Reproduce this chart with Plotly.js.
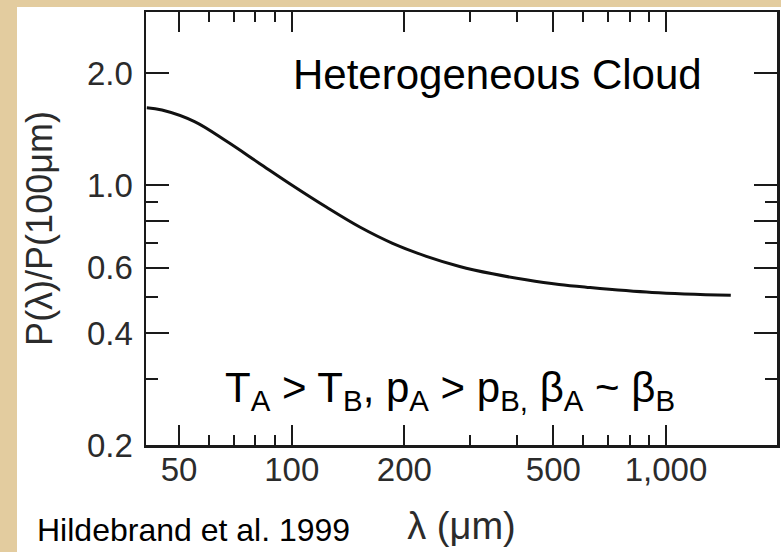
<!DOCTYPE html>
<html>
<head>
<meta charset="utf-8">
<script src="https://cdn.plot.ly/plotly-3.0.1.min.js"></script>
<style>
  html, body { margin: 0; padding: 0; background: #e3cc9f; }
  #chart { width: 781px; height: 552px; }
</style>
</head>
<body>
<div id="chart"></div>
<script>
// Polarization spectrum, normalised at 100 μm
const wavelength = [41, 45, 55, 67, 82, 100, 124, 152, 186, 229, 281, 344, 423, 518, 612, 918, 1490];
const ratio      = [1.612, 1.59, 1.48, 1.31, 1.143, 1.00, 0.871, 0.771, 0.697, 0.643, 0.604, 0.577, 0.556, 0.540, 0.531, 0.514, 0.505];

// Axis ticks
const xMajorVals = [50, 100, 200, 500, 1000];
const xMajorText = ['50', '100', '200', '500', '1,000'];
const xMinorVals = [60, 70, 80, 90, 300, 400, 600, 700, 800, 900];
const yMajorVals = [0.2, 0.4, 0.6, 0.8, 1.0, 2.0];
const yMajorText = ['0.2', '0.4', '0.6', '', '1.0', '2.0'];
const yMinorVals = [0.3, 0.5, 0.7, 0.9];

// Text
const cloudLabel = 'Heterogeneous Cloud';
const conditionLabel = 'T<sub>A</sub> > T<sub>B</sub>, p<sub>A</sub> > p<sub>B,</sub> β<sub>A</sub> ~ β<sub>B</sub>';
const sourceLabel = 'Hildebrand et al. 1999';
const xTitle = 'λ (μm)';
const yTitle = 'P(λ)/P(100μm)';

// Page geometry
const W = 781, H = 552;
const M = { l: 146, r: 4, t: 12, b: 107 };
const PW = W - M.l - M.r, PH = H - M.t - M.b;
const fx = px => (px - M.l) / PW;
const fy = py => (H - M.b - py) / PH;

const ink = '#1a1a1a';
const sans = 'Liberation Sans, Arial, sans-serif';
const tickFont = { family: sans, size: 33, color: '#2b2b2b' };
const noteFont = { family: sans, size: 42, color: '#000' };

const trace = {
  x: wavelength,
  y: ratio,
  type: 'scatter',
  mode: 'lines',
  line: { color: '#111', width: 3, shape: 'spline', smoothing: 1 },
  hoverinfo: 'skip'
};

const axisCommon = {
  showline: true, linecolor: ink, linewidth: 2.5,
  mirror: 'ticks', ticks: 'inside', tickcolor: ink, tickwidth: 2,
  showgrid: false, zeroline: false, fixedrange: true
};

const layout = {
  width: W, height: H,
  margin: M,
  paper_bgcolor: '#e3cc9f',
  plot_bgcolor: '#ffffff',
  showlegend: false,
  xaxis: Object.assign({}, axisCommon, {
    type: 'log',
    range: [Math.log10(40.8), Math.log10(1980)],
    tickmode: 'array', tickvals: xMajorVals, ticktext: xMajorText,
    ticklen: 20, tickfont: tickFont, ticklabelstandoff: -6,
    minor: { tickmode: 'array', tickvals: xMinorVals, ticks: 'inside', ticklen: 10, tickwidth: 2, tickcolor: ink, showgrid: false },
    title: { text: xTitle, font: { family: sans, size: 38, color: '#2b2b2b' }, standoff: 26 }
  }),
  yaxis: Object.assign({}, axisCommon, {
    type: 'log',
    range: [Math.log10(0.2), 0.465],
    tickmode: 'array', tickvals: yMajorVals, ticktext: yMajorText,
    ticklen: 23, tickfont: tickFont, ticklabelstandoff: 4,
    minor: { tickmode: 'array', tickvals: yMinorVals, ticks: 'inside', ticklen: 12, tickwidth: 2, tickcolor: ink, showgrid: false },
    title: { text: yTitle, font: { family: sans, size: 36, color: '#2b2b2b' }, standoff: 24 }
  }),
  shapes: [
    // white sheet behind the figure, leaving the parchment edge at left and top
    { type: 'rect', xref: 'paper', yref: 'paper', layer: 'below',
      x0: fx(17), x1: fx(W), y0: fy(H), y1: fy(7),
      fillcolor: '#ffffff', line: { width: 0 } }
  ],
  annotations: [
    { text: cloudLabel, xref: 'paper', yref: 'paper', x: fx(497), y: fy(75),
      xanchor: 'center', yanchor: 'middle', showarrow: false, font: noteFont },
    { text: conditionLabel, xref: 'paper', yref: 'paper', x: fx(450), y: fy(390),
      xanchor: 'center', yanchor: 'middle', showarrow: false, font: noteFont },
    { text: sourceLabel, xref: 'paper', yref: 'paper', x: fx(35), y: fy(530),
      xanchor: 'left', yanchor: 'middle', showarrow: false,
      font: { family: sans, size: 32, color: '#000' } }
  ]
};

Plotly.newPlot('chart', [trace], layout, { staticPlot: true, displayModeBar: false });
</script>
</body>
</html>
